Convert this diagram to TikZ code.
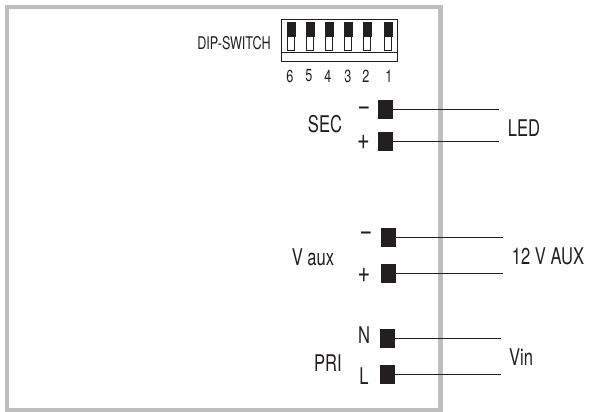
\documentclass[tikz,border=0pt]{standalone}
\usepackage{fontspec}
\setmainfont[FakeStretch=0.72]{TeX Gyre Heros}
\definecolor{frameGray}{HTML}{BDBEC0}
\definecolor{inkBlack}{HTML}{231F20}
\tikzset{
    terminal/.style={rectangle,fill=inkBlack,inner sep=0pt,minimum width=15pt,minimum height=19pt},
    wire/.style={draw=inkBlack,line width=1pt},
    lbl/.style={text=inkBlack,inner sep=0pt,font=\fontsize{23}{26}\selectfont},
    lblsmall/.style={text=inkBlack,inner sep=0pt,font=\fontsize{17.5}{20}\selectfont},
    lblsign/.style={text=inkBlack,inner sep=0pt,font=\fontsize{30}{32}\selectfont},
    lever/.style={rectangle,draw=inkBlack,line width=0.8pt,fill=white,inner sep=0pt,minimum width=7pt,minimum height=27pt}
}
\begin{document}
\begin{tikzpicture}[x=1pt,y=-1pt]
    \useasboundingbox (0,0) rectangle (590,412);
    \draw[frameGray, line width=4.5pt] (7,7) rectangle (440.5,410);

    % dip switch
    \node[lblsmall] (dip-label) at (234,43) {DIP-SWITCH};
    \draw[inkBlack, line width=1pt] (281,19.5) rectangle (397,62);
    \draw[inkBlack, line width=1pt] (281,53) -- (397,53);
    \foreach \name/\sx/\tx in {6/291/290, 5/310/309, 4/329/328, 3/348/348, 2/367/366, 1/388/389}{
        \node[lever] (sw-\name) at (\sx,36.5) {};
        \draw[inkBlack, fill] (sw-\name.north west) rectangle (sw-\name.east);
        \node[lblsmall] (num-\name) at (\tx,76) {\name};
    }

    % terminals
    \node[terminal] (sec-minus) at (385.5,109.5) {};
    \node[terminal] (sec-plus) at (385.5,142) {};
    \node[terminal] (aux-minus) at (388.5,237.5) {};
    \node[terminal] (aux-plus) at (388.5,273.5) {};
    \node[terminal] (pri-n) at (387.5,338.5) {};
    \node[terminal] (pri-l) at (387.5,374.5) {};

    \coordinate (led-minus) at (499,110);
    \coordinate (led-plus) at (499,142);
    \coordinate (vaux-minus) at (503,237);
    \coordinate (vaux-plus) at (503,273);
    \coordinate (vin-n) at (501,338);
    \coordinate (vin-l) at (501,374);

    \draw[wire] (sec-minus.east |- led-minus) -- (led-minus);
    \draw[wire] (sec-plus.east |- led-plus) -- (led-plus);
    \draw[wire] (aux-minus.east |- vaux-minus) -- (vaux-minus);
    \draw[wire] (aux-plus.east |- vaux-plus) -- (vaux-plus);
    \draw[wire] (pri-n.east |- vin-n) -- (vin-n);
    \draw[wire] (pri-l.east |- vin-l) -- (vin-l);

    % labels
    \node[lbl] (sec-label) at (325,124) {SEC};
    \node[lblsign] (sec-m) at (364,111) {−};
    \node[lblsign] (sec-p) at (363.5,142) {+};
    \node[lbl] (led-label) at (524,128) {LED};
    \node[lbl] (aux-label) at (313,257) {V aux};
    \node[lblsign] (aux-m) at (366,236) {−};
    \node[lblsign] (aux-p) at (364,275) {+};
    \node[lbl] (aux-out) at (548,256) {12 V AUX};
    \node[lbl] (pri-label) at (328,363) {PRI};
    \node[lbl] (pri-nl) at (364,335) {N};
    \node[lbl] (pri-ll) at (364,376) {L};
    \node[lbl] (vin-label) at (521,357) {Vin};
\end{tikzpicture}
\end{document}
